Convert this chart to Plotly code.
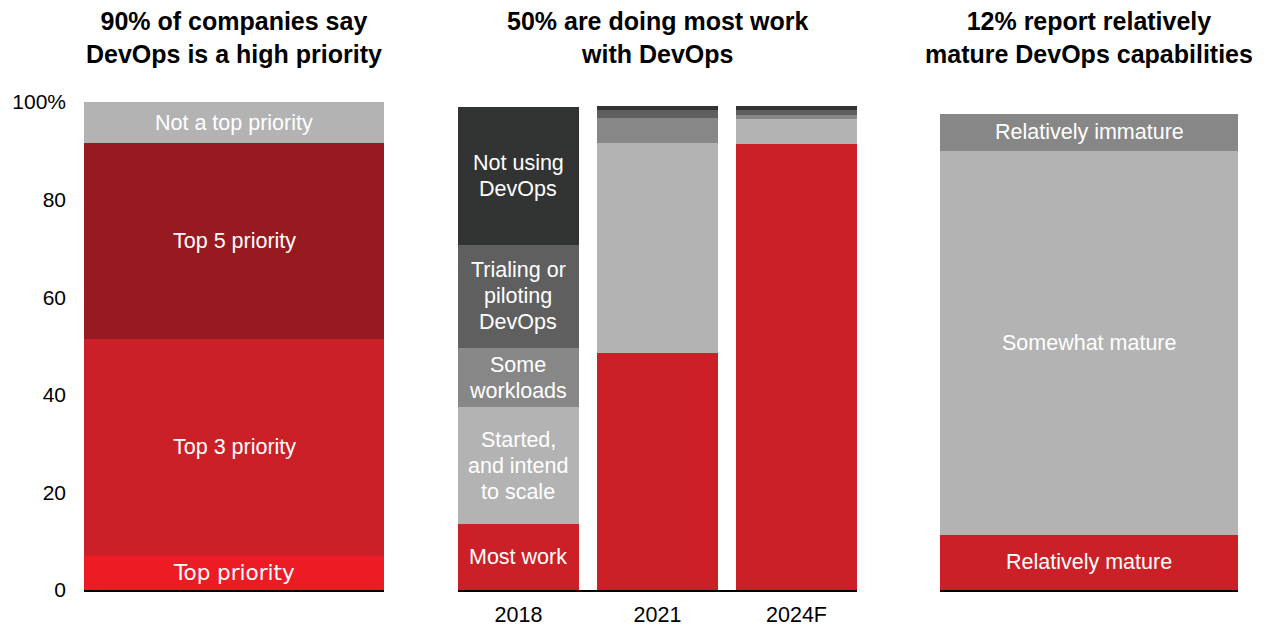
import plotly.graph_objects as go

# ---- data -------------------------------------------------------------
priority_labels = ["Top priority", "Top 3 priority", "Top 5 priority", "Not a top priority"]
priority_values = [7.0, 44.5, 40.0, 8.5]
priority_colors = ["#ED1C24", "#CC2028", "#971A20", "#B3B3B3"]

years = ["2018", "2021", "2024F"]
adoption_labels = ["Most work", "Started,<br>and intend<br>to scale", "Some<br>workloads",
                   "Trialing or<br>piloting<br>DevOps", "Not using<br>DevOps"]
adoption_values = [
    [13.5, 48.6, 91.4],   # most work
    [24.0, 43.0, 5.1],    # started, intend to scale
    [12.0, 5.1, 0.8],     # some workloads
    [21.3, 1.6, 1.1],     # trialing / piloting
    [28.2, 0.8, 0.8],     # not using
]
adoption_colors = ["#CC2028", "#B3B3B3", "#878787", "#5F5F5F", "#323433"]

maturity_labels = ["Relatively mature", "Somewhat mature", "Relatively immature"]
maturity_values = [11.3, 78.7, 7.5]
maturity_colors = ["#CC2028", "#B3B3B3", "#878787"]

titles = ["90% of companies say<br>DevOps is a high priority",
          "50% are doing most work<br>with DevOps",
          "12% report relatively<br>mature DevOps capabilities"]

# ---- geometry -----------------------------------------------------------
W, H = 1270, 628
y_dom = [(H - 590) / H, (H - 102) / H]
panels = [(84, 384), (458, 857), (940, 1238)]
ARIAL = "Liberation Sans, Arial"
LABEL_FONT = dict(family=ARIAL, size=21.5, color="white")
LINE_H = 26  # px between lines of a multi-line segment label

fig = go.Figure()
annotations = []


def label_segments(values, labels, x, xref, yref, fonts=None):
    base = 0
    for k, (v, lab) in enumerate(zip(values, labels)):
        f = fonts[k] if fonts else LABEL_FONT
        lines = lab.split("<br>")
        n = len(lines)
        for i, line in enumerate(lines):
            annotations.append(dict(x=x, y=base + v / 2, xref=xref, yref=yref, text=line,
                                    showarrow=False, font=f, xanchor="center",
                                    yanchor="middle", yshift=((n - 1) / 2 - i) * LINE_H))
        base += v


# left panel
for lab, v, c in zip(priority_labels, priority_values, priority_colors):
    fig.add_trace(go.Bar(x=[0], y=[v], width=1, marker_color=c, marker_line_width=0,
                         name=lab, xaxis="x", yaxis="y", hoverinfo="skip"))
left_fonts = [dict(family="DejaVu Sans, Verdana", size=21.5, color="white")] + [LABEL_FONT] * 3
label_segments(priority_values, priority_labels, 0, "x", "y", left_fonts)

# middle panel
for lab, vals, c in zip(adoption_labels, adoption_values, adoption_colors):
    fig.add_trace(go.Bar(x=list(range(len(years))), y=vals, width=0.87, marker_color=c,
                         marker_line_width=0, name=lab, xaxis="x2", yaxis="y2",
                         hoverinfo="skip"))
label_segments([v[0] for v in adoption_values], adoption_labels, 0, "x2", "y2")

# right panel
for lab, v, c in zip(maturity_labels, maturity_values, maturity_colors):
    fig.add_trace(go.Bar(x=[0], y=[v], width=1, marker_color=c, marker_line_width=0,
                         name=lab, xaxis="x3", yaxis="y3", hoverinfo="skip"))
label_segments(maturity_values, maturity_labels, 0, "x3", "y3")

# titles
for (a, b), t in zip(panels, titles):
    annotations.append(dict(x=(a + b) / 2 / W, y=1 - 37 / H, xref="paper", yref="paper",
                            text="<b>" + t + "</b>", showarrow=False,
                            xanchor="center", yanchor="middle",
                            font=dict(family=ARIAL, size=25, color="black")))

xbase = dict(showgrid=False, zeroline=False, showline=True, linecolor="black", linewidth=2,
             fixedrange=True, automargin=False)
ybase = dict(range=[0, 100], domain=y_dom, showgrid=False, zeroline=False, showline=False,
             fixedrange=True, automargin=False)

fig.update_layout(
    width=W, height=H,
    margin=dict(l=0, r=0, t=0, b=0, pad=0),
    paper_bgcolor="white", plot_bgcolor="white",
    barmode="stack", showlegend=False,
    font=dict(family=ARIAL, size=21, color="black"),
    xaxis=dict(xbase, domain=[panels[0][0] / W, panels[0][1] / W], range=[-0.5, 0.5],
               showticklabels=False),
    xaxis2=dict(xbase, domain=[panels[1][0] / W, panels[1][1] / W], range=[-0.435, 2.435],
                tickvals=list(range(len(years))), ticktext=years, ticklabelstandoff=4,
                tickfont=dict(size=21.5)),
    xaxis3=dict(xbase, domain=[panels[2][0] / W, panels[2][1] / W], range=[-0.5, 0.5],
                showticklabels=False),
    yaxis=dict(ybase, anchor="x", tickvals=[0, 20, 40, 60, 80, 100],
               ticktext=["0", "20", "40", "60", "80", "100%"], ticklabelstandoff=17),
    yaxis2=dict(ybase, anchor="x2", showticklabels=False),
    yaxis3=dict(ybase, anchor="x3", showticklabels=False),
    annotations=annotations,
)

# drop the browser's default 8px body margin so the figure sits at the window origin
fig.write_html("out.html", config={"displayModeBar": False},
               post_script="document.body.style.margin='0';")
